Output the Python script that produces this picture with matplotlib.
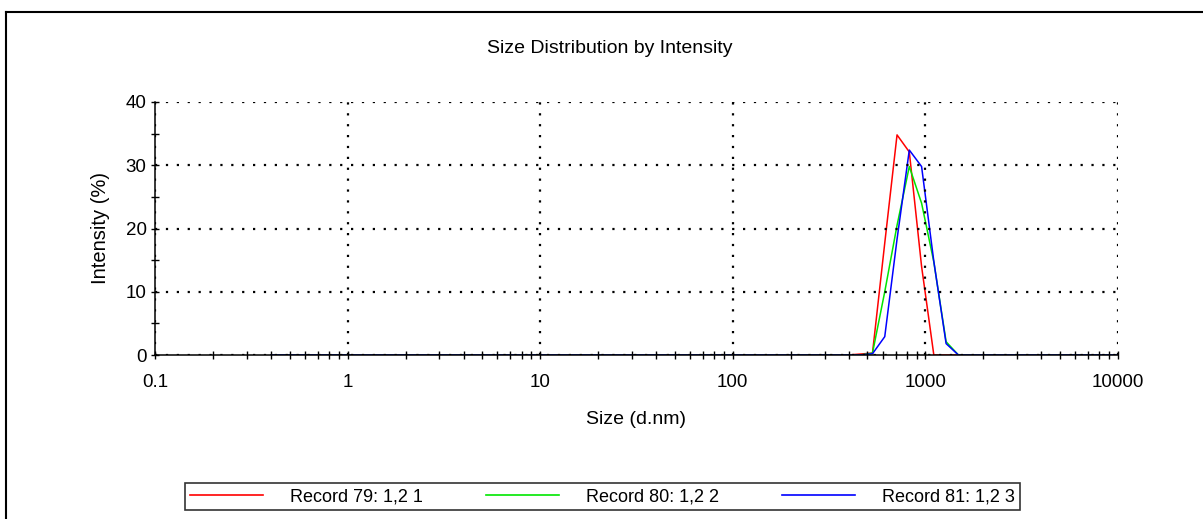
import numpy as np
import matplotlib
matplotlib.use("Agg")
import matplotlib.pyplot as plt
from matplotlib.ticker import LogLocator, FixedLocator, NullFormatter, FuncFormatter
from matplotlib.lines import Line2D

plt.rcParams['font.family'] = ['Liberation Sans', 'DejaVu Sans']

# Size classes (d.nm), log-spaced instrument bins
sizes = [0.4, 0.4632, 0.5365, 0.6213, 0.7195, 0.8332, 0.9649, 1.117, 1.294, 1.499,
         1.736, 2.01, 2.328, 2.696, 3.122, 3.615, 4.187, 4.849, 5.615, 6.503,
         7.531, 8.721, 10.1, 11.7, 13.54, 15.69, 18.17, 21.04, 24.36, 28.21,
         32.67, 37.84, 43.82, 50.75, 58.77, 68.06, 78.82, 91.28, 105.7, 122.4,
         141.8, 164.2, 190.1, 220.2, 255.0, 295.3, 342.0, 396.1, 458.7, 531.2,
         615.1, 712.4, 825.0, 955.4, 1106, 1281, 1484, 1718, 1990, 2305,
         2669, 3091, 3580, 4145, 4801, 5560, 6439, 7456, 8635, 10000]

# Non-zero intensities (%) per record, keyed by size class
rec79_peak = {458.7: 0.15, 531.2: 0.3, 615.1: 17.7, 712.4: 34.8, 825.0: 32.1, 955.4: 14.0}
rec80_peak = {531.2: 0.3, 615.1: 10.0, 712.4: 20.5, 825.0: 29.8, 955.4: 24.0, 1106: 14.7, 1281: 2.1}
rec81_peak = {531.2: 0.2, 615.1: 2.9, 712.4: 18.3, 825.0: 32.4, 955.4: 29.8, 1106: 14.8, 1281: 1.8}

record_labels = ["Record 79: 1,2 1", "Record 80: 1,2 2", "Record 81: 1,2 3"]
record_colors = ["#ff0000", "#00e600", "#0000ff"]

x_tick_labels = ["0.1", "1", "10", "100", "1000", "10000"]
y_ticks = [0, 10, 20, 30, 40]


def series(peak):
    return [peak.get(s, 0.0) for s in sizes]


records = [series(rec79_peak), series(rec80_peak), series(rec81_peak)]

fig = plt.figure(figsize=(12.03, 5.19), dpi=100)
fig.patch.set_facecolor("white")

# outer frame (left and top edges visible)
fig.add_artist(Line2D([6 / 1203, 6 / 1203], [0, 1 - 12 / 519], color="black", lw=1.5,
                      transform=fig.transFigure))
fig.add_artist(Line2D([6 / 1203, 1], [1 - 12 / 519, 1 - 12 / 519], color="black", lw=1.5,
                      transform=fig.transFigure))

ax = fig.add_axes([155 / 1203, 1 - 355 / 519, (1118 - 155) / 1203, (355 - 102) / 519])
for vals, lab, col in zip(records, record_labels, record_colors):
    ax.plot(sizes, vals, color=col, lw=1.1, label=lab)

ax.set_xscale("log")
ax.set_xlim(0.1, 10000)
ax.set_ylim(0, 40)

ax.xaxis.set_major_locator(FixedLocator([0.1, 1, 10, 100, 1000, 10000]))
ax.xaxis.set_major_formatter(FuncFormatter(lambda v, p: x_tick_labels[int(round(np.log10(v))) + 1]))
ax.xaxis.set_minor_locator(LogLocator(base=10, subs=np.arange(2, 10)))
ax.xaxis.set_minor_formatter(NullFormatter())
ax.set_yticks(y_ticks)
ax.set_yticks([5, 15, 25, 35], minor=True)

ax.tick_params(axis="both", which="both", direction="inout", length=6, width=1,
               color="black", labelsize=13.5)
ax.tick_params(axis="x", which="major", pad=11)
ax.tick_params(axis="y", which="major", pad=3)

for side in ("top", "right"):
    ax.spines[side].set_visible(False)
for side in ("left", "bottom"):
    ax.spines[side].set_linewidth(1.1)

ax.grid(True, which="major", color="black", linestyle=(0, (1.0, 3.9)), linewidth=1.6)
ax.set_axisbelow(False)

ax.set_xlabel("Size (d.nm)", fontsize=14, labelpad=14)
ax.set_ylabel("Intensity (%)", fontsize=14.5, labelpad=11)
ax.set_title("Size Distribution by Intensity", fontsize=14, pad=35,
             x=(609.5 - 155) / (1118 - 155))

handles, labels = ax.get_legend_handles_labels()
leg = fig.legend(handles, labels, ncol=3, loc="center",
                 bbox_to_anchor=(185 / 1203, 1 - 512 / 519, (1020 - 185) / 1203, 31 / 519),
                 mode="expand", fontsize=13, frameon=True, fancybox=False,
                 edgecolor="black", handlelength=4.0, handletextpad=1.5,
                 columnspacing=3.0, borderpad=0.3, borderaxespad=0)
leg.get_frame().set_linewidth(1.2)
for line in leg.get_lines():
    line.set_linewidth(1.2)

fig.savefig("out.png", dpi=100, facecolor="white")
